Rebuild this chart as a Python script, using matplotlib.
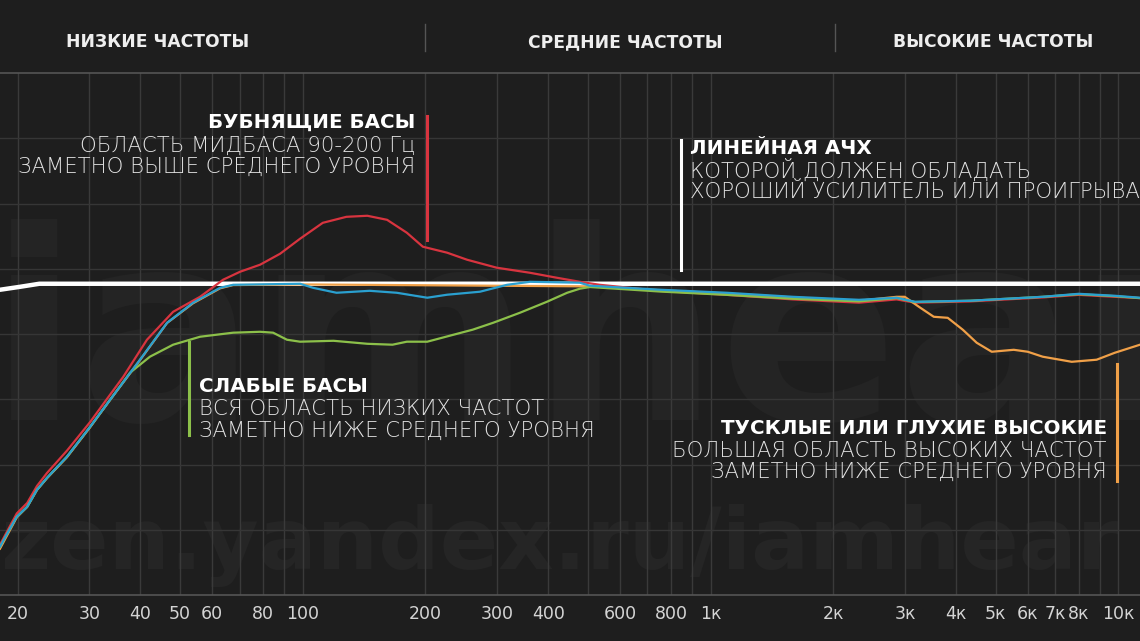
import numpy as np
import matplotlib
matplotlib.use('Agg')
import matplotlib.pyplot as plt
from matplotlib.lines import Line2D

plt.rcParams['font.family'] = ['DejaVu Sans']

# ---------------- data ----------------
tick_freqs = [20, 30, 40, 50, 60, 80, 100, 200, 300, 400, 600, 800,
              1000, 2000, 3000, 4000, 5000, 6000, 7000, 8000, 10000]
tick_labels = ['20', '30', '40', '50', '60', '80', '100', '200', '300', '400',
               '600', '800', '1к', '2к', '3к', '4к', '5к', '6к', '7к', '8к', '10к']
grid_freqs = ([f for f in range(20, 101, 10)] + [f for f in range(200, 1001, 100)]
              + [f for f in range(2000, 10001, 1000)])
band_labels = ['НИЗКИЕ ЧАСТОТЫ', 'СРЕДНИЕ ЧАСТОТЫ', 'ВЫСОКИЕ ЧАСТОТЫ']

flat_freq = [18.1, 20.3, 22.6, 11300]
flat_db = [-0.46, -0.23, 0.0, 0.0]

blue_freq = [18.1, 18.9, 19.9, 21.1, 22.3, 23.6, 26.4, 30.1, 33.7, 39.9, 46.5, 53.8,
             62.7, 67.5, 98.5, 106, 121, 146, 170, 202, 226, 272, 317, 361, 478, 506,
             755, 1095, 1592, 2312, 2860, 3170, 4335, 6524, 7993, 9796, 11300]
blue_db = [-20.15, -19.08, -17.85, -17.09, -15.79, -14.87, -13.26, -10.96, -8.89, -5.82,
           -2.99, -1.46, -0.31, -0.08, 0.0, -0.31, -0.69, -0.54, -0.69, -1.07, -0.84,
           -0.61, -0.08, 0.15, 0.08, -0.15, -0.46, -0.69, -1.0, -1.23, -1.07, -1.38,
           -1.30, -1.0, -0.77, -0.92, -1.07]

red_freq = [18.1, 18.9, 19.9, 21.1, 22.3, 23.6, 26.4, 30.1, 33.7, 36.3, 41.5, 48.1,
            56.0, 63.8, 70.2, 78.6, 88.0, 98.5, 112, 128, 144, 161, 180, 197, 226,
            253, 299, 361, 420, 478, 535, 755, 1095, 1592, 2312, 2860, 3170, 4335,
            6524, 7993, 9796, 11300]
red_db = [-20.0, -18.9, -17.6, -16.8, -15.5, -14.5, -12.8, -10.6, -8.5, -7.13, -4.29,
          -2.15, -1.0, 0.31, 0.92, 1.46, 2.30, 3.45, 4.67, 5.13, 5.21, 4.90, 3.91, 2.84,
          2.38, 1.84, 1.23, 0.84, 0.46, 0.15, -0.08, -0.55, -0.85, -1.2, -1.45, -1.2,
          -1.45, -1.35, -1.05, -0.85, -1.0, -1.1]

green_freq = [18.1, 18.9, 19.9, 21.1, 22.3, 23.6, 26.4, 30.1, 33.7, 37.7, 42.2, 48.1,
              56.0, 67.5, 78.6, 84.6, 91.5, 98.5, 119, 144, 166, 180, 202, 234, 261,
              293, 341, 397, 445, 478, 506, 755, 1095, 1592, 2312, 2860, 3170, 4335,
              6524, 7993, 9796, 11300]
green_db = [-20.15, -19.08, -17.85, -17.09, -15.79, -14.87, -13.26, -10.96, -8.89, -6.82,
            -5.59, -4.67, -4.06, -3.75, -3.68, -3.75, -4.29, -4.44, -4.37, -4.60, -4.67,
            -4.44, -4.44, -3.91, -3.52, -2.99, -2.22, -1.38, -0.69, -0.38, -0.25, -0.6,
            -0.85, -1.15, -1.35, -1.1, -1.4, -1.3, -1.0, -0.8, -0.95, -1.1]

orange_freq = [18.1, 18.9, 19.9, 21.1, 22.3, 23.6, 26.4, 30.1, 33.7, 39.9, 46.5, 53.8,
               62.7, 67.5, 98.5, 506, 755, 1095, 1592, 2312, 2860, 2994, 3241, 3527,
               3816, 4154, 4494, 4892, 5540, 5994, 6524, 7684, 8846, 9796, 11300]
orange_db = [-20.3, -19.2, -17.9, -17.1, -15.8, -14.9, -13.3, -11.0, -8.9, -5.85, -3.0,
             -1.5, -0.35, -0.1, -0.05, -0.2, -0.5, -0.75, -1.05, -1.3, -1.0, -1.0, -1.76,
             -2.53, -2.61, -3.52, -4.52, -5.21, -5.06, -5.21, -5.59, -5.98, -5.82,
             -5.29, -4.67]

# ---------------- figure ----------------
W, H = 1140, 641
BG = '#1e1e1e'
fig = plt.figure(figsize=(W / 100, H / 100), dpi=100, facecolor=BG)
ax = fig.add_axes([0, 1 - 595 / H, 1, 522 / H])
ax.set_facecolor(BG)
ax.set_xscale('log')
ax.set_xlim(18.1, 11300)
ax.set_ylim(-23.85, 16.15)

# watermarks
ax.text(-0.01, 0.335, 'iamhear', transform=ax.transAxes, fontsize=190,
        fontweight='bold', color='#242424', ha='left', va='baseline', zorder=0)
ax.text(0.0, 0.05, 'zen.yandex.ru/iamhear', transform=ax.transAxes, fontsize=62,
        fontweight='bold', color='#252525', ha='left', va='baseline', zorder=0)

# grid
for f in grid_freqs:
    ax.axvline(f, color='#3a3a3a', lw=1.0, zorder=1)
for yv in np.arange(-23.85 + 5, 16.15, 5):
    ax.axhline(yv, color='#363636', lw=1.0, zorder=1)

for s in ['left', 'right']:
    ax.spines[s].set_visible(False)
for s in ['top', 'bottom']:
    ax.spines[s].set_color('#555555')
    ax.spines[s].set_linewidth(1.2)

ax.set_yticks([])
ax.set_xticks(tick_freqs)
ax.set_xticklabels(tick_labels)
ax.xaxis.set_minor_locator(matplotlib.ticker.NullLocator())
ax.tick_params(axis='x', length=0, pad=7, labelsize=12.5, labelcolor='#d4d4d4')

# curves
ax.plot(flat_freq, flat_db, color='#ffffff', lw=3.2, zorder=3, solid_capstyle='round')
ax.plot(red_freq, red_db, color='#d8343f', lw=1.6, zorder=4)
ax.plot(orange_freq, orange_db, color='#f0a048', lw=1.6, zorder=4)
ax.plot(green_freq, green_db, color='#8cc04a', lw=1.6, zorder=5)
ax.plot(blue_freq, blue_db, color='#2aa0d0', lw=1.6, zorder=6)

# header
for xp, lab in zip([158, 625, 993], band_labels):
    fig.text(xp / W, 1 - 42 / H, lab, ha='center', va='center', color='#eeeeee',
             fontsize=12.3, fontweight='bold')
for xp in [425, 835]:
    fig.add_artist(Line2D([xp / W, xp / W], [1 - 24 / H, 1 - 51 / H], color='#555555', lw=1))


def vline(xp, y0, y1, color, lw=2.2):
    fig.add_artist(Line2D([xp / W, xp / W], [1 - y0 / H, 1 - y1 / H], color=color, lw=lw, zorder=10))


def block(xp, ys, lines, ha):
    for i, (yp, t) in enumerate(zip(ys, lines)):
        fig.text(xp / W, 1 - yp / H, t, ha=ha, va='center',
                 color='#ffffff' if i == 0 else '#e2e2e2',
                 fontsize=14.3 if i == 0 else 15.3,
                 fontweight='bold' if i == 0 else 'light', zorder=11)


vline(427, 116, 240, '#d8343f')
block(415, [122, 146, 167], ['БУБНЯЩИЕ БАСЫ', 'ОБЛАСТЬ МИДБАСА 90-200 Гц',
                             'ЗАМЕТНО ВЫШЕ СРЕДНЕГО УРОВНЯ'], 'right')

vline(681, 140, 270, '#ffffff')
block(690, [148, 170, 192], ['ЛИНЕЙНАЯ АЧХ', 'КОТОРОЙ ДОЛЖЕН ОБЛАДАТЬ',
                             'ХОРОШИЙ УСИЛИТЕЛЬ ИЛИ ПРОИГРЫВАТЕЛЬ'], 'left')

vline(189, 342, 435, '#8cc04a')
block(199, [386, 409, 431], ['СЛАБЫЕ БАСЫ', 'ВСЯ ОБЛАСТЬ НИЗКИХ ЧАСТОТ',
                             'ЗАМЕТНО НИЖЕ СРЕДНЕГО УРОВНЯ'], 'left')

vline(1117, 364, 481, '#f0a048')
block(1107, [428, 451, 472], ['ТУСКЛЫЕ ИЛИ ГЛУХИЕ ВЫСОКИЕ', 'БОЛЬШАЯ ОБЛАСТЬ ВЫСОКИХ ЧАСТОТ',
                              'ЗАМЕТНО НИЖЕ СРЕДНЕГО УРОВНЯ'], 'right')

fig.savefig('out.png', dpi=100, facecolor=BG)
